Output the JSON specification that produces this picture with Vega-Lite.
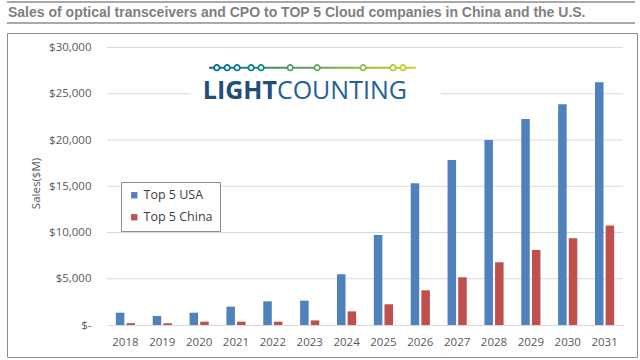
{
  "$schema": "https://vega.github.io/schema/vega-lite/v6.json",
  "background": "white",
  "padding": {"left": 6, "top": 1, "right": 0, "bottom": 0},
  "spacing": 8,
  "datasets": {
    "sales": [
      {"year": "2018", "series": "Top 5 USA", "sales": 1330},
      {"year": "2019", "series": "Top 5 USA", "sales": 970},
      {"year": "2020", "series": "Top 5 USA", "sales": 1330},
      {"year": "2021", "series": "Top 5 USA", "sales": 1980},
      {"year": "2022", "series": "Top 5 USA", "sales": 2560},
      {"year": "2023", "series": "Top 5 USA", "sales": 2630},
      {"year": "2024", "series": "Top 5 USA", "sales": 5490},
      {"year": "2025", "series": "Top 5 USA", "sales": 9740},
      {"year": "2026", "series": "Top 5 USA", "sales": 15330},
      {"year": "2027", "series": "Top 5 USA", "sales": 17840},
      {"year": "2028", "series": "Top 5 USA", "sales": 20000},
      {"year": "2029", "series": "Top 5 USA", "sales": 22270},
      {"year": "2030", "series": "Top 5 USA", "sales": 23860},
      {"year": "2031", "series": "Top 5 USA", "sales": 26240},
      {"year": "2018", "series": "Top 5 China", "sales": 200},
      {"year": "2019", "series": "Top 5 China", "sales": 190},
      {"year": "2020", "series": "Top 5 China", "sales": 360},
      {"year": "2021", "series": "Top 5 China", "sales": 360},
      {"year": "2022", "series": "Top 5 China", "sales": 360},
      {"year": "2023", "series": "Top 5 China", "sales": 500},
      {"year": "2024", "series": "Top 5 China", "sales": 1470},
      {"year": "2025", "series": "Top 5 China", "sales": 2240},
      {"year": "2026", "series": "Top 5 China", "sales": 3750},
      {"year": "2027", "series": "Top 5 China", "sales": 5160},
      {"year": "2028", "series": "Top 5 China", "sales": 6780},
      {"year": "2029", "series": "Top 5 China", "sales": 8120},
      {"year": "2030", "series": "Top 5 China", "sales": 9380},
      {"year": "2031", "series": "Top 5 China", "sales": 10750}
    ],
    "grid": [{"v": 5000}, {"v": 10000}, {"v": 15000}, {"v": 20000}, {"v": 25000}, {"v": 30000}],
    "dots": [
      {"x": 2020.48}, {"x": 2020.76}, {"x": 2021.03}, {"x": 2021.41}, {"x": 2021.68},
      {"x": 2022.47}, {"x": 2023.2}, {"x": 2024.45}, {"x": 2025.26}, {"x": 2025.53}
    ]
  },
  "vconcat": [
    {
      "width": 628,
      "height": 21,
      "view": {"stroke": null},
      "data": {"values": [{"label": "Sales of optical transceivers and CPO to TOP 5 Cloud companies in China and the U.S."}]},
      "layer": [
        {
          "mark": {"type": "rule", "color": "#8c8c8c", "strokeWidth": 1.5},
          "encoding": {"y": {"datum": 1, "type": "quantitative", "scale": {"domain": [0, 1], "nice": false, "zero": false}, "axis": null}}
        },
        {
          "mark": {"type": "rule", "color": "#8c8c8c", "strokeWidth": 1.5},
          "encoding": {"y": {"datum": 0, "type": "quantitative", "scale": {"domain": [0, 1], "nice": false, "zero": false}, "axis": null}}
        },
        {
          "mark": {"type": "text", "align": "left", "baseline": "middle", "dx": 1, "font": "Liberation Sans", "fontSize": 14, "fontWeight": "bold", "color": "#7f7f7f"},
          "encoding": {
            "x": {"datum": 0, "type": "quantitative", "scale": {"domain": [0, 1], "nice": false, "zero": false}, "axis": null},
            "y": {"datum": 0.5, "type": "quantitative", "scale": {"domain": [0, 1], "nice": false, "zero": false}, "axis": null},
            "text": {"field": "label"}
          }
        }
      ]
    },
    {
      "width": 630,
      "height": 324,
      "view": {"stroke": "#8c8c8c", "strokeWidth": 1},
      "resolve": {"scale": {"x": "independent"}, "axis": {"x": "independent", "y": "independent"}},
      "layer": [
        {
          "data": {"name": "grid"},
          "mark": {"type": "rule", "color": "#d9d9d9", "strokeWidth": 1},
          "encoding": {
            "x": {"datum": 2017.5, "type": "quantitative", "scale": {"domain": [2017.5, 2031.5], "range": [100, 616], "nice": false, "zero": false}, "axis": null},
            "x2": {"datum": 2031.5},
            "y": {"field": "v", "type": "quantitative", "scale": {"domain": [-3459, 31568], "nice": false, "zero": false}, "axis": null}
          }
        },
        {
          "data": {"values": [{}]},
          "mark": {"type": "rect", "color": "white"},
          "encoding": {
            "x": {"datum": 2019.77, "type": "quantitative", "scale": {"domain": [2017.5, 2031.5], "range": [100, 616], "nice": false, "zero": false}, "axis": null},
            "x2": {"datum": 2026.56},
            "y": {"datum": 23000, "type": "quantitative", "scale": {"domain": [-3459, 31568], "nice": false, "zero": false}, "axis": null},
            "y2": {"datum": 28800}
          }
        },
        {
          "data": {"values": [{}]},
          "mark": {"type": "rect", "fill": {"gradient": "linear", "x1": 0, "y1": 0, "x2": 1, "y2": 0, "stops": [{"offset": 0, "color": "#1a6592"}, {"offset": 0.4, "color": "#4f9a63"}, {"offset": 1, "color": "#d4d02a"}]}},
          "encoding": {
            "x": {"datum": 2020.27, "type": "quantitative", "scale": {"domain": [2017.5, 2031.5], "range": [100, 616], "nice": false, "zero": false}, "axis": null},
            "x2": {"datum": 2025.88},
            "y": {"datum": 27700, "type": "quantitative", "scale": {"domain": [-3459, 31568], "nice": false, "zero": false}, "axis": null},
            "y2": {"datum": 27930}
          }
        },
        {
          "data": {"name": "dots"},
          "mark": {"type": "point", "shape": "circle", "filled": true, "fill": "white", "size": 30, "strokeWidth": 1.8, "opacity": 1},
          "encoding": {
            "x": {"field": "x", "type": "quantitative", "scale": {"domain": [2017.5, 2031.5], "range": [100, 616], "nice": false, "zero": false}, "axis": null},
            "y": {"datum": 27816, "type": "quantitative", "scale": {"domain": [-3459, 31568], "nice": false, "zero": false}, "axis": null},
            "stroke": {"field": "x", "type": "quantitative", "scale": {"domain": [2020.27, 2022.5, 2025.88], "range": ["#1a6592", "#4f9a63", "#d4d02a"]}, "legend": null}
          }
        },
        {
          "data": {"values": [{}]},
          "mark": {"type": "text", "text": "LIGHT", "align": "right", "baseline": "middle", "font": "Open Sans", "fontSize": 25, "fontWeight": "bold", "color": "#1f4e79"},
          "encoding": {
            "x": {"datum": 2022.11, "type": "quantitative", "scale": {"domain": [2017.5, 2031.5], "range": [100, 616], "nice": false, "zero": false}, "axis": null},
            "y": {"datum": 25300, "type": "quantitative", "scale": {"domain": [-3459, 31568], "nice": false, "zero": false}, "axis": null}
          }
        },
        {
          "data": {"values": [{}]},
          "mark": {"type": "text", "text": "COUNTING", "align": "left", "baseline": "middle", "font": "Open Sans", "fontSize": 25, "fontWeight": "normal", "color": "#23609a"},
          "encoding": {
            "x": {"datum": 2022.11, "type": "quantitative", "scale": {"domain": [2017.5, 2031.5], "range": [100, 616], "nice": false, "zero": false}, "axis": null},
            "y": {"datum": 25300, "type": "quantitative", "scale": {"domain": [-3459, 31568], "nice": false, "zero": false}, "axis": null}
          }
        },
        {
          "data": {"name": "sales"},
          "mark": {"type": "bar"},
          "encoding": {
            "x": {
              "field": "year", "type": "ordinal",
              "scale": {"range": [100, 616], "paddingInner": 0.48, "paddingOuter": 0.24},
              "axis": {"orient": "bottom", "offset": -32, "ticks": false, "tickSize": 0, "domainColor": "#d9d9d9", "labelPadding": 11, "labelFont": "Open Sans", "labelFontSize": 11.5, "labelColor": "#595959", "labelAngle": 0, "title": null, "grid": false}
            },
            "xOffset": {"field": "series", "type": "nominal", "scale": {"domain": ["Top 5 USA", "Top 5 China"], "paddingInner": 0.2, "paddingOuter": 0}},
            "y": {
              "field": "sales", "type": "quantitative",
              "scale": {"domain": [-3459, 31568], "nice": false, "zero": false},
              "axis": {
                "orient": "left",
                "values": [0, 5000, 10000, 15000, 20000, 25000, 30000],
                "offset": -100, "domain": false, "ticks": false, "tickSize": 0, "grid": false,
                "labelPadding": 16, "labelExpr": "datum.value === 0 ? '$-' : '$' + format(datum.value, ',')",
                "labelFont": "Open Sans", "labelFontSize": 11.5, "labelColor": "#595959",
                "title": "Sales($M)", "titleFont": "Open Sans", "titleFontSize": 11.5, "titleFontWeight": "normal", "titleColor": "#595959", "titlePadding": 7, "titleY": 150
              }
            },
            "y2": {"datum": 0},
            "color": {
              "field": "series", "type": "nominal",
              "scale": {"domain": ["Top 5 USA", "Top 5 China"], "range": ["#4f81bd", "#c0504d"]},
              "legend": {"orient": "none", "legendX": 114, "legendY": 149, "title": null, "symbolType": "square", "symbolSize": 40, "symbolStrokeWidth": 0, "labelFont": "Open Sans", "labelFontSize": 12.5, "labelColor": "#404040", "strokeColor": "#8c8c8c", "fillColor": "white", "padding": 7, "rowPadding": 9, "labelOffset": 3}
            }
          }
        }
      ]
    }
  ],
  "resolve": {"scale": {"color": "independent"}, "legend": {"color": "independent"}},
  "config": {"font": "Open Sans"}
}
